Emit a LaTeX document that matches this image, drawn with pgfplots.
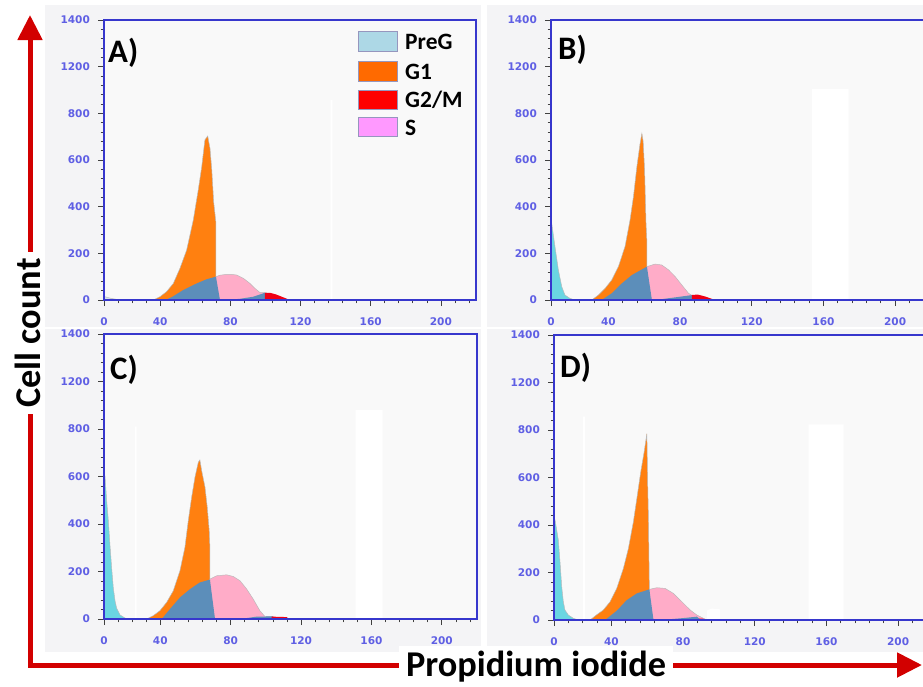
\documentclass[border=0pt]{standalone}
\usepackage{pgfplots}
\pgfplotsset{compat=1.18}
\usepackage{fontspec}
\setmainfont{Carlito}
\newfontfamily\tickfont{DejaVu Sans}
\usetikzlibrary{arrows.meta}
\definecolor{frameblue}{RGB}{55,55,205}
\definecolor{ticklab}{RGB}{95,95,228}
\definecolor{cyanP}{RGB}{106,214,226}
\definecolor{paleP}{RGB}{215,228,235}
\definecolor{orangeG}{RGB}{255,128,16}
\definecolor{steelS}{RGB}{92,142,186}
\definecolor{pinkS}{RGB}{255,172,200}
\definecolor{redG}{RGB}{240,0,20}
\definecolor{panelbg}{RGB}{244,244,246}
\definecolor{plotbg}{RGB}{249,249,249}
\definecolor{arrowred}{RGB}{210,0,0}
\definecolor{edgegray}{RGB}{185,185,185}
\definecolor{legPre}{RGB}{173,216,230}
\definecolor{legG1}{RGB}{255,106,0}
\definecolor{legG2}{RGB}{255,0,0}
\definecolor{legS}{RGB}{255,153,255}
\definecolor{legedge}{RGB}{150,150,190}

\pgfplotsset{
  flowpanel/.style={
    scale only axis,
    anchor=south west,
    xmin=8, xmax=220, ymin=0, ymax=1200,
    axis background/.style={fill=plotbg},
    axis line style={frameblue, line width=2.2pt},
    xtick={8,40,80,120,160,200},
    xticklabels={0,40,80,120,160,200},
    minor xtick={16,24,...,216},
    ytick={0,200,...,1200},
    yticklabels={0,200,400,600,800,1200,1400},
    minor y tick num=4,
    tick pos=left,
    tick align=outside,
    major tick length=0.18cm,
    minor tick length=0.1cm,
    tick style={black!75, line width=0.6pt},
    ticklabel style={font=\tickfont\bfseries\fontsize{9}{10}\selectfont, text=ticklab},
    xticklabel style={yshift=-0.24cm},
    yticklabel style={xshift=-0.12cm},
    /pgf/number format/assume math mode=true,
    axis on top,
  },
  histo/.style={fill=#1, draw=edgegray, line width=0.4pt},
  fitarea/.style={fill=#1, draw=none},
}

\begin{document}
\begin{tikzpicture}
\useasboundingbox (0,0) rectangle (27.69,-20.58);
% panel backgrounds
\fill[panelbg] (1.35,-0.15) rectangle (14.43,-9.81);
\fill[panelbg] (14.61,-0.15) rectangle (27.69,-9.81);
\fill[panelbg] (1.35,-9.87) rectangle (14.43,-19.56);
\fill[panelbg] (14.61,-9.87) rectangle (27.69,-19.56);

% ---------------- Panel A ----------------
\begin{axis}[flowpanel, at={(3.12cm,-9.0cm)}, width=11.16cm, height=8.4cm]
\addplot[fitarea=white] coordinates {(137.2,0) (137.2,857) (138.2,857) (138.2,0)} \closedcycle;
\addplot[histo=paleP] coordinates {(8,15) (10,11) (12,7) (15,3) (19,0)} \closedcycle;
\addplot[histo=orangeG] coordinates {(36.1,0) (39.9,14) (43.7,36) (47.5,71) (51.3,136) (55.1,214) (58.9,343) (61.7,471) (63.7,571) (65.5,686) (67.1,703) (68.4,650) (69.4,560) (70.5,420) (71.8,330) (71.8,0)} \closedcycle;
\addplot[histo=pinkS] coordinates {(71.8,0) (71.8,100) (74,106) (77.9,110) (80.5,110) (83.6,107) (87.4,93) (91.2,71) (94,50) (96.9,32) (100.7,31) (100.7,0)} \closedcycle;
\addplot[fitarea=steelS] coordinates {(43,0) (47,14) (53.2,43) (60.8,71) (66.5,89) (71.8,100) (74.1,0)} \closedcycle;
\addplot[fitarea=steelS] coordinates {(76,0) (85.4,5) (93,14) (99.7,31) (100.7,0)} \closedcycle;
\addplot[fitarea=redG] coordinates {(99.7,0) (99.7,31) (103,30) (106,24) (110,12) (114,0)} \closedcycle;
\end{axis}

% ---------------- Panel B ----------------
\begin{axis}[flowpanel, at={(16.53cm,-9.0cm)}, width=11.4cm, height=8.4cm]
\addplot[fitarea=white] coordinates {(153.6,0) (153.6,904) (174.1,904) (174.1,0)} \closedcycle;
\addplot[histo=cyanP] coordinates {(8,335) (8.4,329) (10.2,229) (12.1,129) (14,57) (15.8,21) (18.6,7) (21.4,0)} \closedcycle;
\addplot[histo=orangeG] coordinates {(30.7,0) (34.4,21) (38.2,50) (41.9,86) (45.6,143) (49.3,229) (52.1,343) (54,443) (55.9,571) (57.7,671) (58.7,714) (59.4,680) (60.2,560) (61,330) (61.5,250) (61.5,0)} \closedcycle;
\addplot[histo=pinkS] coordinates {(61.5,0) (61.5,143) (66.1,154) (69.8,150) (73.6,129) (77.3,100) (81,64) (84.7,29) (86.6,20) (86.6,0)} \closedcycle;
\addplot[fitarea=steelS] coordinates {(36.3,0) (41.9,29) (47.5,71) (53.1,107) (58.7,131) (61.5,143) (64.3,0)} \closedcycle;
\addplot[fitarea=steelS] coordinates {(66.1,0) (76,10) (86.6,21) (86.6,0)} \closedcycle;
\addplot[fitarea=redG] coordinates {(86.6,0) (86.6,22) (90,23) (94,15) (99.6,0)} \closedcycle;
\end{axis}

% ---------------- Panel C ----------------
\begin{axis}[flowpanel, at={(3.12cm,-18.57cm)}, width=11.19cm, height=8.55cm]
\addplot[fitarea=white] coordinates {(151,0) (151,880) (166.4,880) (166.4,0)} \closedcycle;
\addplot[fitarea=white] coordinates {(25.5,0) (25.5,810) (26.5,810) (26.5,0)} \closedcycle;
\addplot[histo=cyanP] coordinates {(8,615) (8.6,600) (9.5,500) (10.4,420) (11.4,310) (12.4,210) (13.3,130) (14.3,75) (15.2,45) (17.1,17) (20.9,0)} \closedcycle;
\addplot[histo=orangeG] coordinates {(32.3,0) (36,14) (39.8,35) (43.6,70) (47.4,119) (51.2,204) (54,302) (55.9,414) (57.8,512) (59.7,597) (61.6,660) (62.5,670) (63.5,625) (65.4,555) (66.7,470) (67.8,372) (68.2,300) (68.2,0)} \closedcycle;
\addplot[histo=pinkS] coordinates {(68.2,0) (68.2,168) (72,182) (77.7,186) (81.5,179) (85.3,161) (89.1,126) (92.8,84) (96.6,35) (99.5,10) (104,10) (104,0)} \closedcycle;
\addplot[fitarea=steelS] coordinates {(40.8,0) (45.5,42) (51.2,91) (56.9,126) (62.5,154) (68.2,166) (71.1,0)} \closedcycle;
\addplot[fitarea=steelS] coordinates {(85.3,0) (94.7,10) (104.2,11) (104.2,0)} \closedcycle;
\addplot[fitarea=redG] coordinates {(103.3,0) (103.3,10) (108,9) (112,8) (112.7,0)} \closedcycle;
\end{axis}

% ---------------- Panel D ----------------
\begin{axis}[flowpanel, at={(16.62cm,-18.6cm)}, width=11.4cm, height=8.55cm]
\addplot[fitarea=white] coordinates {(150.1,0) (150.1,824) (169.6,824) (169.6,0)} \closedcycle;
\addplot[fitarea=white] coordinates {(24.3,0) (24.3,856) (25.3,856) (25.3,0)} \closedcycle;
\addplot[histo=cyanP] coordinates {(8,430) (8.6,421) (10.4,337) (11.4,239) (12.3,140) (13.2,77) (14.1,42) (16,21) (18.8,7) (21.6,0)} \closedcycle;
\addplot[histo=orangeG] coordinates {(28.1,0) (31.8,22) (35.5,42) (39.3,77) (43,133) (46.7,217) (49.5,301) (52.3,414) (54.5,526) (56.4,624) (58.3,708) (59.8,785) (60.3,560) (60.7,420) (60.9,300) (61.2,130) (61.2,0)} \closedcycle;
\addplot[histo=pinkS] coordinates {(61.2,0) (61.2,129) (65.4,136) (70,133) (74.6,112) (79.3,77) (84,42) (87.7,21) (91.4,7) (93,0)} \closedcycle;
\addplot[fitarea=steelS] coordinates {(36.5,0) (43,39) (48.6,84) (54.2,112) (61.2,129) (63.5,0)} \closedcycle;
\addplot[fitarea=steelS] coordinates {(67.2,0) (80,8) (87.7,14) (90,0)} \closedcycle;
\addplot[fitarea=redG] coordinates {(89,0) (89,6) (92,5) (94,0)} \closedcycle;
\addplot[fitarea=white] coordinates {(93.3,0) (93.3,40) (96,48) (100.7,45) (100.7,0)} \closedcycle;
\end{axis}

% panel letters
\node[anchor=west, font=\bfseries\fontsize{28}{30}\selectfont, inner sep=0pt] at (3.24,-1.58) {A)};
\node[anchor=west, font=\bfseries\fontsize{28}{30}\selectfont, inner sep=0pt] at (16.74,-1.50) {B)};
\node[anchor=west, font=\bfseries\fontsize{28}{30}\selectfont, inner sep=0pt] at (3.30,-11.10) {C)};
\node[anchor=west, font=\bfseries\fontsize{28}{30}\selectfont, inner sep=0pt] at (16.80,-11.04) {D)};

% legend (panel A)
\begin{scope}[legedge, line width=0.5pt]
\filldraw[fill=legPre] (10.74,-0.95) rectangle (11.91,-1.55);
\filldraw[fill=legG1]  (10.74,-1.85) rectangle (11.91,-2.43);
\filldraw[fill=legG2]  (10.74,-2.70) rectangle (11.91,-3.27);
\filldraw[fill=legS]   (10.74,-3.52) rectangle (11.91,-4.10);
\end{scope}
\begin{scope}[every node/.style={anchor=west, font=\bfseries\fontsize{20}{22}\selectfont, inner sep=0pt}]
\node at (12.15,-1.27) {PreG};
\node at (12.15,-2.16) {G1};
\node at (12.15,-3.00) {G2/M};
\node at (12.15,-3.83) {S};
\end{scope}

% axis arrows and titles
\draw[arrowred, line width=0.15cm, {Triangle[length=0.75cm,width=0.72cm]}-{Triangle[length=0.75cm,width=0.72cm]}] (0.9,-0.45) -- (0.9,-19.95) -- (27.66,-19.95);
\node[fill=white, rotate=90, inner xsep=0.2cm, inner ysep=0.05cm, font=\bfseries\fontsize{31}{34}\selectfont] at (0.84,-9.99) {Cell count};
\node[fill=white, anchor=base, inner xsep=0.2cm, inner ysep=0.15cm, font=\bfseries\fontsize{31}{33}\selectfont] at (16.08,-20.30) {Propidium iodide};
\end{tikzpicture}
\end{document}
